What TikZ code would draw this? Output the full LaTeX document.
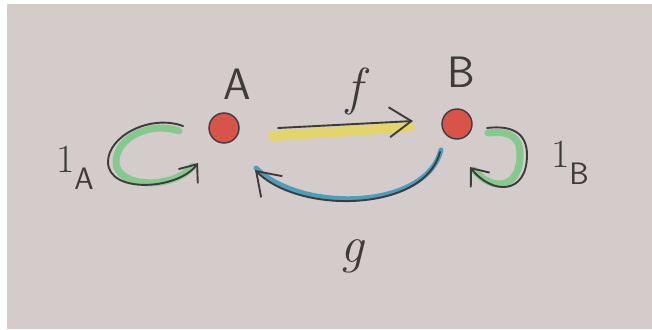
\documentclass[tikz,border=0pt]{standalone}
\usepackage{fontspec}
\usetikzlibrary{arrows.meta,calc}
\definecolor{paper}{HTML}{D3CCCA}
\definecolor{pencil}{HTML}{3D3B3B}
\definecolor{redc}{HTML}{D8544A}
\definecolor{yel}{HTML}{E3D56B}
\definecolor{grn}{HTML}{86C98F}
\definecolor{blu}{HTML}{4E9DBD}
\newcommand{\idsub}[1]{1\raisebox{-0.42em}{\fontsize{31}{31}\selectfont\sffamily #1}}
\tikzset{
  dot/.style={circle,fill=redc,draw=pencil,line width=1.4pt,minimum size=30pt,inner sep=0pt},
  lbl/.style={text=pencil,inner sep=0pt,font=\fontsize{44}{46}\selectfont\sffamily},
  mlbl/.style={text=pencil,inner sep=0pt,font=\fontsize{52}{54}\selectfont\itshape},
  idlbl/.style={text=pencil,inner sep=0pt,font=\fontsize{40}{42}\selectfont},
  pen/.style={draw=pencil,line width=1.9pt,line cap=round},
  tip/.style={-{Straight Barb[length=22pt,width=30pt,line width=1.9pt]}},
  stip/.style={-{Straight Barb[length=15pt,width=24pt,line width=1.9pt]}},
  coat/.style={line width=8pt,line cap=round},
}
\begin{document}
\begin{tikzpicture}[x=1pt,y=-1pt]
\useasboundingbox (0,0) rectangle (652,329);
\fill[white] (0,0) rectangle (652,329);
\fill[paper] (7,4) rectangle (652,329);
% objects
\node[dot] (A) at (224,128) {};
\node[dot] (B) at (457,124) {};
\node[lbl] (Alab) at (237,84) {A};
\node[lbl] (Blab) at (461,72) {B};
% f : A -> B
\coordinate (fs) at ($(A)+(54,0)$);
\coordinate (fe) at ($(B)+(-44,-3)$);
\draw[coat,yel,line width=10pt] ($(fs)+(-5,8)$) -- ($(fe)+(-3,6)$);
\draw[pen,tip] (fs) -- (fe);
\node[mlbl] (flab) at (354,91) {f};
% g : B -> A
\coordinate (gs) at ($(B)+(-17,28)$);
\coordinate (ge) at ($(A)+(31,42)$);
\draw[coat,blu,line width=5pt] ($(gs)+(1,-2)$) .. controls +(-15,60) and +(45,45) .. ($(ge)+(1,-2)$);
\draw[pen,tip] (gs) .. controls +(-15,60) and +(45,45) .. (ge);
\node[mlbl] (glab) at (352,256) {g};
% identity on A
\coordinate (la1) at ($(A)+(-41,-2)$);
\coordinate (laW) at ($(A)+(-116,34)$);
\coordinate (la2) at ($(A)+(-26,35)$);
\draw[coat,grn,line width=7pt] ($(la1)+(-4,5)$) .. controls +(-30,-10) and +(0,-24) .. ($(laW)+(8,0)$)
  .. controls +(0,26) and +(-20,24) .. ($(la2)+(-5,3)$);
\draw[pen,stip] (la1) .. controls +(-33,-12) and +(0,-26) .. (laW)
  .. controls +(0,32) and +(-20,27) .. (la2);
\node[idlbl] (idA) at (75,168) {\idsub{A}};
% identity on B
\coordinate (lb1) at ($(B)+(30,4)$);
\coordinate (lbE) at ($(B)+(70,31)$);
\coordinate (lb2) at ($(B)+(13,43)$);
\draw[coat,grn,line width=7pt] ($(lb1)+(1,5)$) .. controls +(20,-2) and +(0,-20) .. ($(lbE)+(-7,0)$)
  .. controls +(0,34) and +(18,22) .. ($(lb2)+(4,3)$);
\draw[pen,stip] (lb1) .. controls +(25,-3) and +(0,-22) .. (lbE)
  .. controls +(0,40) and +(22,28) .. (lb2);
\node[idlbl] (idB) at (570,163) {\idsub{B}};
\end{tikzpicture}
\end{document}
